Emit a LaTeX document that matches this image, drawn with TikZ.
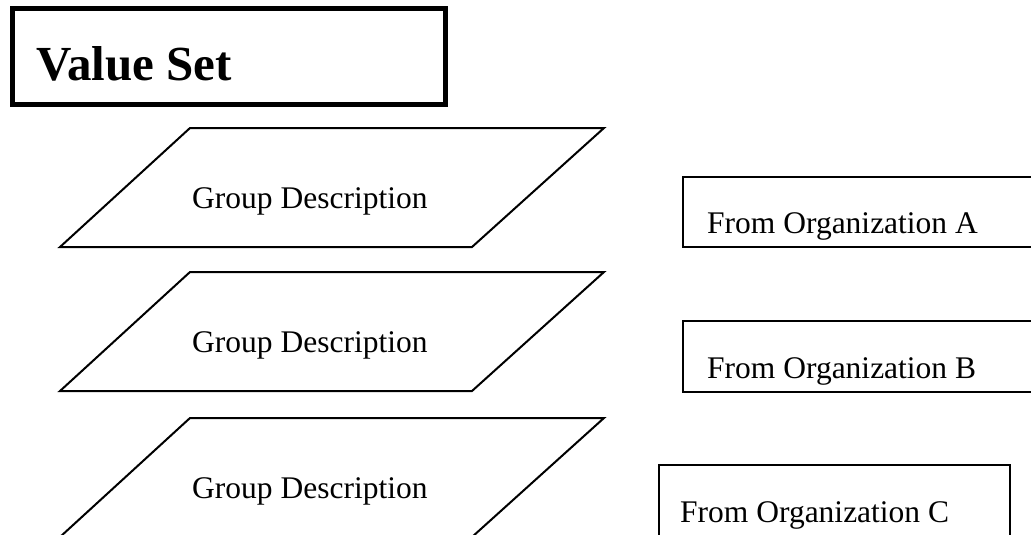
\documentclass[tikz,border=0pt]{standalone}
\usepackage{fontspec}
\setmainfont{Liberation Serif}
\begin{document}
\begin{tikzpicture}[x=1pt,y=-1pt,
  lbl/.style={anchor=base west,inner sep=0pt,font=\fontsize{31.5}{38}\selectfont},
  para/.style={draw=black,line width=2pt,line join=miter},
  orgbox/.style={draw=black,line width=2.4pt},
  titlebox/.style={draw=black,line width=5pt}]
\useasboundingbox (0,0) rectangle (1031,535);
% title
\draw[titlebox] (12,9) rectangle (445,104);
\node[anchor=base west,inner sep=0pt,font=\fontsize{49}{59}\selectfont\bfseries] (title) at (36,81) {Value Set};
% parallelograms
\foreach \t/\n in {128/1,272/2,418/3}{
  \draw[para] (190,\t) -- (604,\t) -- (472,\t+119) -- (60,\t+119) -- cycle;
}
\node[lbl] (g1) at (192,208) {Group Description};
\node[lbl] (g2) at (192,352) {Group Description};
\node[lbl] (g3) at (192,498) {Group Description};
% organization boxes
\draw[orgbox] (1040,177) -- (683,177) -- (683,247) -- (1040,247);
\node[lbl] (oa) at (707,233) {From Organization A};
\draw[orgbox] (1040,321) -- (683,321) -- (683,392) -- (1040,392);
\node[lbl] (ob) at (707,378) {From Organization B};
\draw[orgbox] (659,545) -- (659,465) -- (1010,465) -- (1010,545);
\node[lbl] (oc) at (680,522) {From Organization C};
\end{tikzpicture}
\end{document}
